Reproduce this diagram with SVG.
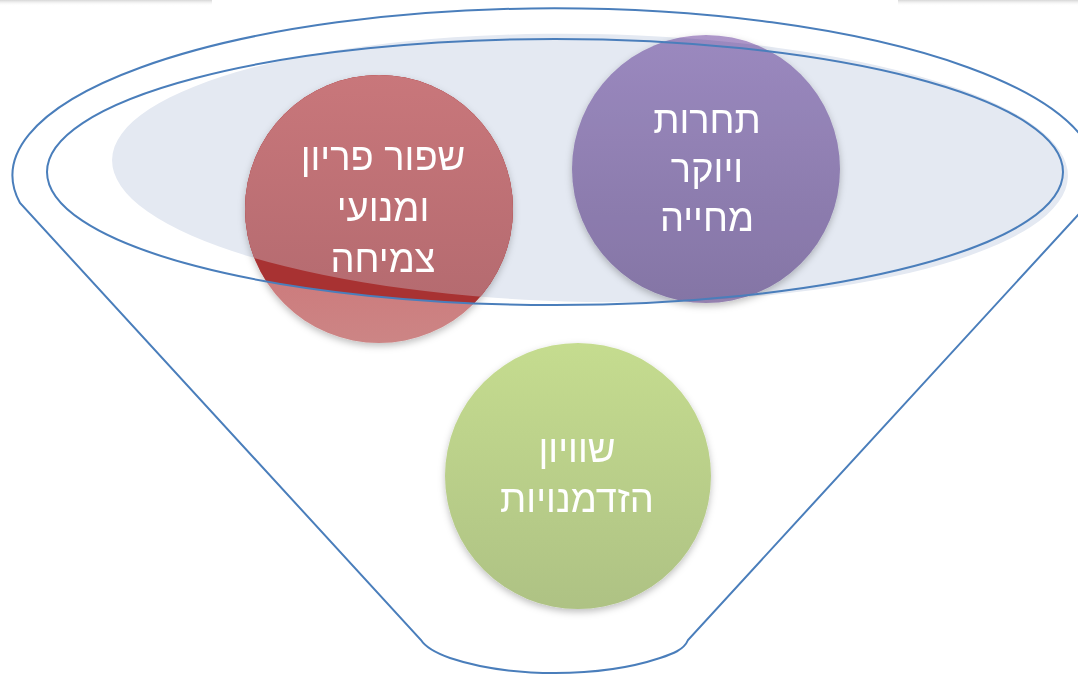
<svg xmlns="http://www.w3.org/2000/svg" width="1078" height="674" viewBox="0 0 1078 674">
  <defs>
    <style>
      .line { fill: none; stroke: #4A7EBB; stroke-width: 2; }
      .lbl { font-family: "Liberation Sans", "DejaVu Sans", "Noto Sans", sans-serif; font-size: 38px; fill: #FFFFFF; text-anchor: middle; }
      .circ { filter: url(#shadow); }
    </style>
    <linearGradient id="gRed" x1="0" y1="0" x2="0" y2="1">
      <stop offset="0" stop-color="#DC7E81"/>
      <stop offset="0.65" stop-color="#CD7779"/>
      <stop offset="1" stop-color="#CC8585"/>
    </linearGradient>
    <linearGradient id="gRedIn" gradientUnits="userSpaceOnUse" x1="0" y1="75" x2="0" y2="300">
      <stop offset="0" stop-color="#C9777B"/>
      <stop offset="1" stop-color="#B56B70"/>
    </linearGradient>
    <linearGradient id="gPurple" x1="0" y1="0" x2="0" y2="1">
      <stop offset="0" stop-color="#AD96C9"/>
      <stop offset="1" stop-color="#9480AE"/>
    </linearGradient>
    <linearGradient id="gGreen" x1="0" y1="0" x2="0" y2="1">
      <stop offset="0" stop-color="#C5DC8F"/>
      <stop offset="1" stop-color="#AEC284"/>
    </linearGradient>
    <linearGradient id="gTop" x1="0" y1="0" x2="0" y2="1">
      <stop offset="0" stop-color="#D6D6D6"/>
      <stop offset="1" stop-color="#FFFFFF" stop-opacity="0"/>
    </linearGradient>
    <filter id="shadow" x="-20%" y="-20%" width="140%" height="145%">
      <feDropShadow dx="0" dy="3" stdDeviation="3.5" flood-color="#000000" flood-opacity="0.25"/>
    </filter>
    <clipPath id="redClip">
      <circle cx="379" cy="209" r="134"/>
    </clipPath>
  </defs>

  <rect width="1078" height="674" fill="#FFFFFF"/>
  <rect x="0" y="0" width="212" height="6" fill="url(#gTop)"/>
  <rect x="898" y="0" width="180" height="6" fill="url(#gTop)"/>

  <g id="funnel">
    <path class="line" d="M 20,203 A 542,167 0 1 1 1089,203 L 688,640 C 684,650 672,654 660,658 C 600,678 510,678 450,658 C 436,653 426,648 421,640 Z"/>
  </g>

  <g id="node-red" class="circ">
    <circle cx="379" cy="209" r="134" fill="url(#gRed)"/>
  </g>
  <g id="node-purple" class="circ">
    <circle cx="706" cy="169" r="134" fill="url(#gPurple)"/>
  </g>
  <g id="node-green" class="circ">
    <circle cx="578" cy="476" r="133" fill="url(#gGreen)"/>
  </g>

  <g id="funnel-top">
    <ellipse cx="590" cy="168" rx="478" ry="134" transform="rotate(1 590 168)" fill="#E4E9F2" style="mix-blend-mode:multiply"/>
    <g clip-path="url(#redClip)">
      <path fill="#A83232" d="M 47,172 A 508,133 0 1 0 1063,172 A 508,133 0 1 0 47,172 Z"/>
      <ellipse cx="590" cy="168" rx="478" ry="134" transform="rotate(1 590 168)" fill="url(#gRedIn)"/>
    </g>
    <ellipse class="line" cx="555" cy="172" rx="508" ry="133"/>
  </g>

  <g id="labels">
    <text class="lbl" x="383" y="170">שפור פריון</text>
    <text class="lbl" x="383" y="221">ומנועי</text>
    <text class="lbl" x="383" y="272">צמיחה</text>
    <text class="lbl" x="707" y="133">תחרות</text>
    <text class="lbl" x="707" y="182">ויוקר</text>
    <text class="lbl" x="707" y="231">מחייה</text>
    <text class="lbl" x="577" y="462">שוויון</text>
    <text class="lbl" x="577" y="512">הזדמנויות</text>
  </g>
</svg>
